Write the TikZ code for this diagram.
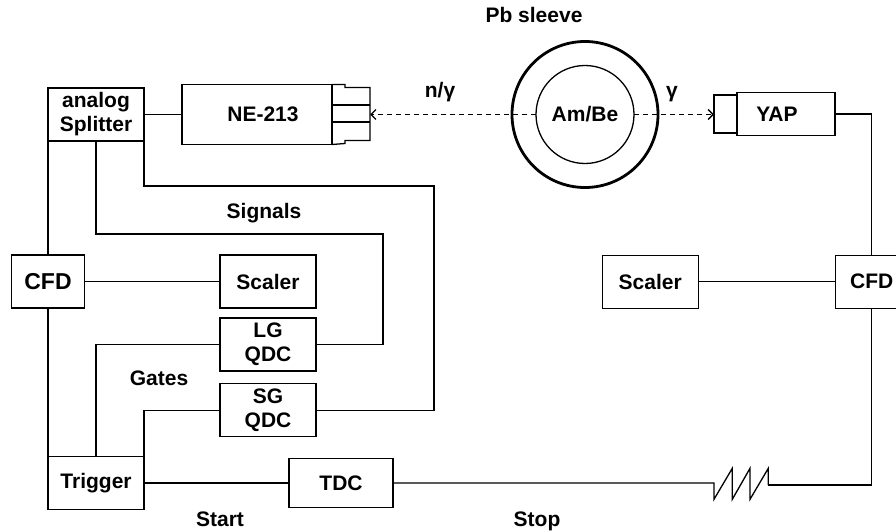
\documentclass[tikz,border=0pt]{standalone}
\usepackage{fontspec}
\setmainfont{Liberation Sans}
\usetikzlibrary{positioning, arrows.meta}

\begin{document}
\begin{tikzpicture}[
    x = 1pt, y = -1pt,
    > = {Straight Barb[length = 5pt, width = 10pt]},
    line width = 1.3pt,
    font = \fontsize{21}{24}\selectfont\bfseries,
    every node/.style = {inner sep = 0pt, outer sep = 0pt},
    modbox/.style = {draw, align = center, minimum width = 96pt, minimum height = 53pt},
    cfd/.style = {modbox, minimum width = 73pt},
    tag/.style = {anchor = base},
    beam/.style = {->, dash pattern = on 5pt off 4pt}
]
\useasboundingbox (0,0) rectangle (896,532);
\clip (0,0) rectangle (896,532);

% Detectors and source
\node[modbox]                          (split) at (96,114.5) {analog\\Splitter};
\node[modbox, minimum width = 150pt,
      minimum height = 60pt, right = 38pt of split] (ne) {\hspace{12pt}NE-213};
\draw (ne.north east) -- ++(13,0) -- ++(0,3) -- ++(25,0) -- ++(0,53)
      -- ++(-25,0) -- ++(0,3) -- (ne.south east);
\draw (ne.east) ++(0,-9.5) -- ++(38,0);
\draw (ne.east) ++(0,7.5)  -- ++(38,0);
\coordinate (win) at ([xshift = 38pt]ne.east);

\node[circle, draw, line width = 1.3pt, minimum size = 98pt] (src) at (585,114.5) {Am/Be};
\node[circle, draw, line width = 2.8pt, minimum size = 146pt] (sleeve) at (src) {};

\node[modbox, minimum width = 98pt, minimum height = 43pt] (yap) at (786,114) {YAP\hspace{18pt}};
\node[draw, minimum width = 23pt, minimum height = 38pt, left = 0pt of yap] (yapwin) {};

% Electronics, left
\node[cfd, font = \fontsize{23}{26}\selectfont\bfseries,
      below = 114pt of split.south west]     (cfdL)  {CFD};
\node[modbox, right = 135.5pt of cfdL]       (scalL) {Scaler};
\node[modbox, below = 10pt of scalL]         (lg)    {LG\\QDC};
\node[modbox, below = 12.7pt of lg]          (sg)    {SG\\QDC};
\node[modbox, anchor = north west]           (trig)  at ([yshift = -148.4pt]cfdL.south) {Trigger};
\node[modbox, minimum width = 104pt,
      minimum height = 49pt, right = 145pt of trig] (tdc) {TDC};

% Electronics, right
\node[cfd]                                   (cfdR)  at (871.7,281.7) {CFD};
\node[modbox, left = 137pt of cfdR]          (scalR) {Scaler};

% Labels
\node[tag] (pb)    at (534,23)  {Pb sleeve};
\node[tag] (ng)    at (440,98)  {n/γ};
\node[tag] (gam)   at (672,98)  {γ};
\node[tag] (sig)   at (264,218) {Signals};
\node[tag] (gates) at (159,385) {Gates};
\node[tag] (start) at (220,526) {Start};
\node[tag] (stop)  at (537,526) {Stop};

% Particles
\draw[beam] (src.west) -- (win);
\draw[beam] (src.east) -- (src.east -| yapwin.west);

% Wires
\coordinate (sigL)  at (383,234);
\coordinate (sigS)  at (434,186);
\coordinate (delay) at (714,483);

\draw (split.east) -- (ne.west);
\draw (cfdL.north) -- (cfdL.north |- split.south);
\draw (cfdL.south) -- (cfdL.south |- trig.north);
\draw (cfdL) -- (scalL);
\draw (split.south) |- (sigL) |- (lg.east);
\draw (split.south east) |- (sigS) |- (sg.east);
\draw (trig.north) |- (lg.west);
\draw (trig.north east) |- (sg.west);
\draw (trig) -- (tdc);
\draw (tdc.east) -- (delay) -- ++(0,16.3) -- ++(18.3,-31) -- ++(0,31) -- ++(17.7,-31)
      -- ++(0,31) -- ++(18.3,-31) -- ++(0,16.7) coordinate (delayout);
\draw (delayout) -| (cfdR.south);
\draw (scalR) -- (cfdR);
\draw (cfdR.north) |- (yap.east);

\end{tikzpicture}
\end{document}
